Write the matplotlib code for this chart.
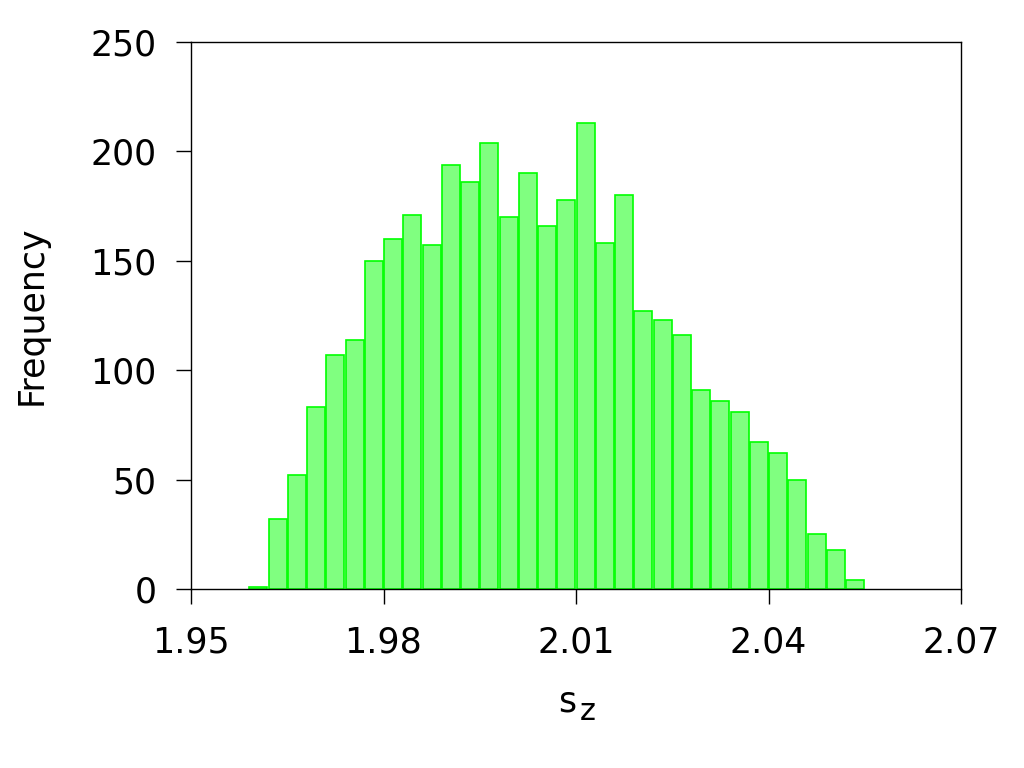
import matplotlib
matplotlib.use("Agg")
import matplotlib.pyplot as plt
import numpy as np

# histogram of s_z, bins of width 0.003
bin_start = 1.9605
bin_width = 0.003
counts = [1, 32, 52, 83, 107, 114, 150, 160, 171, 157, 194, 186, 204, 170, 190, 166,
          178, 213, 158, 180, 127, 123, 116, 91, 86, 81, 67, 62, 50, 25, 18, 4]
centers = bin_start + bin_width * np.arange(len(counts))

xticks = [1.95, 1.98, 2.01, 2.04, 2.07]
yticks = [0, 50, 100, 150, 200, 250]

plt.rcParams['font.family'] = 'DejaVu Sans'

fig = plt.figure(figsize=(10.24, 7.68), dpi=100)
ax = fig.add_axes([191/1024, 1-589/768, 770/1024, 547/768])

ax.bar(centers, counts, width=bin_width*0.93, color="#80ff80",
       edgecolor="#00ff00", linewidth=1.2, zorder=2)

ax.set_xlim(1.95, 2.07)
ax.set_ylim(0, 250)
ax.set_xticks(xticks)
ax.set_xticklabels(["%.2f" % t for t in xticks])
ax.set_yticks(yticks)
ax.tick_params(direction="out", length=11, width=1, labelsize=25,
               top=False, right=False)
ax.tick_params(axis="x", pad=15)
ax.tick_params(axis="y", pad=14)
for s in ax.spines.values():
    s.set_linewidth(1)

# s with a large subscript z
ax.set_xlabel("s", fontsize=25, labelpad=18)
ax.xaxis.label.set_x(0.489)
ax.annotate("z", xy=(1, 0), xycoords=ax.xaxis.label, xytext=(2, -6),
            textcoords="offset points", fontsize=22, ha="left", va="bottom")
ax.set_ylabel("Frequency", fontsize=25, labelpad=30)

fig.savefig("out.png", dpi=100)
